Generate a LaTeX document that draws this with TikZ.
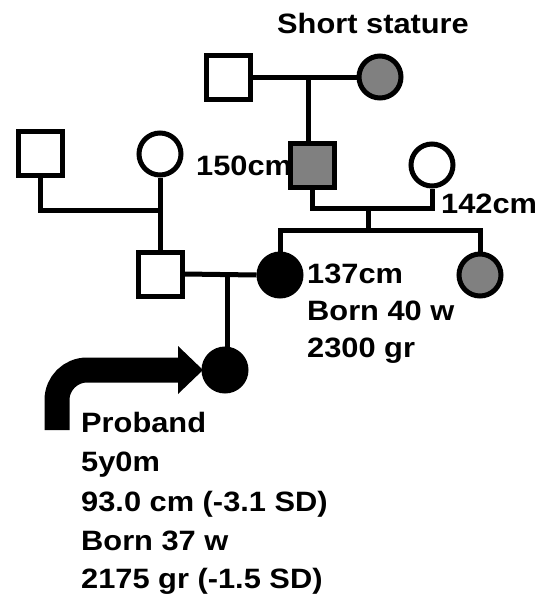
\documentclass[tikz,border=0pt]{standalone}
\usepackage{fontspec}
\setmainfont[FakeStretch=1.1]{Liberation Sans}
\begin{document}
\begin{tikzpicture}[x=1pt,y=-1pt,
  lw/.style={line width=5pt},
  male/.style={lw,draw=black,rectangle,minimum size=44pt,inner sep=0pt},
  female/.style={lw,draw=black,circle,minimum size=42pt,inner sep=0pt},
  gray/.style={fill=graycol},
  txt/.style={font=\fontsize{28pt}{32pt}\selectfont\bfseries,anchor=base west,inner sep=0pt},
  conn/.style={lw}]
\definecolor{graycol}{HTML}{808080}
\useasboundingbox (0,0) rectangle (540,595);
% individuals
\node[male,fill=white] (gf) at (228,77) {};
\node[female,gray] (gm) at (380,77) {};
\node[male,gray] (mgf) at (312,165) {};
\node[female,fill=white] (mgm) at (432,165) {};
\node[male,fill=white] (pgf) at (40,153) {};
\node[female,fill=white] (pgm) at (160,154) {};
\node[male,fill=white] (fa) at (160,274) {};
\node[female,fill=black] (mo) at (280,275) {};
\node[female,gray] (aunt) at (480,275) {};
\node[female,fill=black] (pro) at (225,370) {};
% connectors
\coordinate (m1) at (308,77);
\coordinate (m2) at (368,208);
\coordinate (s2) at (368,230);
\coordinate (m3) at (160,210);
\coordinate (m4) at (227,273);
\draw[conn] (gf.east) -- (gm.west);
\draw[conn] (m1) -- (m1 |- mgf.north);
\draw[conn] (mgf.south) |- (m2) -| (mgm.south);
\draw[conn] (m2) -- (s2);
\draw[conn] (mo.north) |- (s2) -| (aunt.north);
\draw[conn] (pgf.south) |- (m3);
\draw[conn] (pgm.south) -- (fa.north);
\draw[conn] (fa.east) -- (mo.west);
\draw[conn] (m4) -- (m4 |- pro.north);
% arrow
\coordinate (a0) at (57,430);
\coordinate (a1) at (180,370);
\draw[line width=25pt,rounded corners=30pt] (a0) |- (a1);
\fill (178,346) -- (203,370) -- (178,394) -- cycle;
% labels
\node[txt] (t1) at (277,33) {Short stature};
\node[txt] (t2) at (196,175) {150cm};
\node[txt] (t3) at (441,213) {142cm};
\node[txt] (t4) at (307,283) {137cm};
\node[txt] (t5) at (307,320) {Born 40 w};
\node[txt] (t6) at (307,357) {2300 gr};
\node[txt] (p1) at (81,432) {Proband};
\node[txt] (p2) at (81,471) {5y0m};
\node[txt] (p3) at (81,511) {93.0 cm (-3.1 SD)};
\node[txt] (p4) at (81,550) {Born 37 w};
\node[txt] (p5) at (81,588) {2175 gr (-1.5 SD)};
\end{tikzpicture}
\end{document}
